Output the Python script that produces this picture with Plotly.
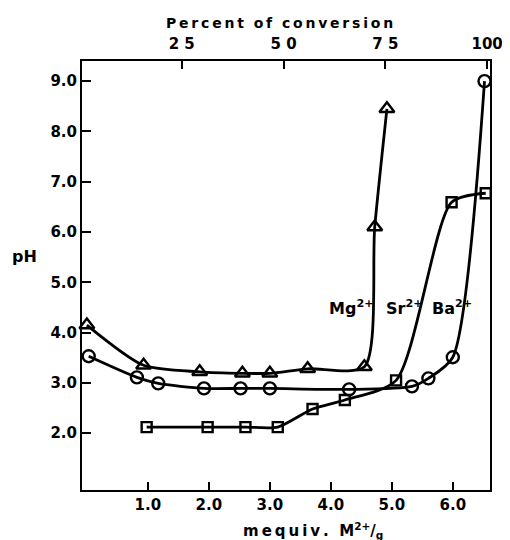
import plotly.graph_objects as go

# Mg2+ (triangles)
mg_x = [0.0, 0.93, 1.85, 2.55, 3.0, 3.62, 4.55, 4.72, 4.92]
mg_ph = [4.15, 3.35, 3.22, 3.19, 3.19, 3.28, 3.32, 6.1, 8.45]
# Sr2+ (squares)
sr_x = [0.98, 1.98, 2.6, 3.13, 3.7, 4.23, 5.07, 5.98, 6.54]
sr_ph = [2.12, 2.12, 2.12, 2.12, 2.48, 2.66, 3.05, 6.59, 6.77]
# Ba2+ (circles)
ba_x = [0.03, 0.82, 1.17, 1.92, 2.52, 3.0, 4.3, 5.33, 5.6, 6.0, 6.52]
ba_ph = [3.53, 3.11, 2.99, 2.89, 2.89, 2.89, 2.87, 2.93, 3.09, 3.51, 9.0]

x_ticks = [1, 2, 3, 4, 5, 6]
x_tick_labels = ["1.0", "2.0", "3.0", "4.0", "5.0", "6.0"]
y_ticks = [2, 3, 4, 5, 6, 7, 8, 9]
y_tick_labels = ["2.0", "3.0", "4.0", "5.0", "6.0", "7.0", "8.0", "9.0"]
pct_ticks = [25, 50, 75, 100]
pct_tick_labels = ["2 5", "5 0", "7 5", "100"]

labels = ["Mg<sup>2+</sup>", "Sr<sup>2+</sup>", "Ba<sup>2+</sup>"]
label_x = [4.34, 5.21, 5.98]
label_y = [4.5, 4.5, 4.5]

FONT = "DejaVu Sans"
TS = "\u2009"  # thin space for letter spacing


def spaced(s):
    return TS.join(s).replace(TS + " " + TS, "  ")


fig = go.Figure()
for xs, ys, sym, sz in [(mg_x, mg_ph, "triangle-up-open", 13),
                        (sr_x, sr_ph, "square-open", 10),
                        (ba_x, ba_ph, "circle-open", 12)]:
    fig.add_trace(go.Scatter(
        x=xs, y=ys, mode="lines+markers",
        line=dict(color="black", width=2.8, shape="spline", smoothing=0.7),
        marker=dict(symbol=sym, size=sz, color="black", line=dict(width=2.4, color="black")),
        showlegend=False, hoverinfo="skip", cliponaxis=False))

# invisible trace to register the top (percent) axis
fig.add_trace(go.Scatter(x=pct_ticks, y=[None] * len(pct_ticks), xaxis="x2",
                         mode="markers", showlegend=False, hoverinfo="skip"))

for t, xv, yv in zip(labels, label_x, label_y):
    fig.add_annotation(x=xv, y=yv, text=t, showarrow=False,
                       font=dict(family=FONT, size=16, color="black", weight="bold"))

bold = dict(family=FONT, color="black", weight="bold")
fig.add_annotation(xref="paper", yref="paper", x=-0.14, y=0.545, text="pH",
                   xanchor="center", yanchor="middle",
                   showarrow=False, font=dict(size=16, **bold))
fig.add_annotation(xref="paper", yref="paper", x=0.485, y=1.0, yshift=38,
                   xanchor="center", yanchor="middle",
                   text=spaced("Percent of conversion"),
                   showarrow=False, font=dict(size=14, **bold))
fig.add_annotation(xref="paper", yref="paper", x=0.566, y=0, yshift=-40,
                   xanchor="center", yanchor="middle",
                   text=spaced("mequiv.") + "  M<sup>2+</sup>/<sub>g</sub>",
                   showarrow=False, font=dict(size=15, **bold))

tickfont = dict(size=15, **bold)

# page body has an 8px default margin, so margins are offset to place the frame
fig.update_layout(
    width=510, height=540,
    margin=dict(l=74, r=28, t=53, b=58),
    plot_bgcolor="white", paper_bgcolor="white",
    xaxis=dict(range=[-0.08, 6.61], tickvals=x_ticks, ticktext=x_tick_labels,
               ticks="inside", ticklen=8, tickwidth=2, tickcolor="black",
               showline=True, linecolor="black", linewidth=2, mirror=False,
               showgrid=False, zeroline=False, tickfont=tickfont, automargin=False),
    xaxis2=dict(overlaying="x", side="top", anchor="y",
                range=[0.5, 100.7], tickvals=pct_ticks, ticktext=pct_tick_labels,
                ticks="inside", ticklen=8, tickwidth=2, tickcolor="black",
                showline=True, linecolor="black", linewidth=2, ticklabelstandoff=4,
                showgrid=False, zeroline=False, tickfont=tickfont, automargin=False),
    yaxis=dict(range=[0.87, 9.4], tickvals=y_ticks, ticktext=y_tick_labels,
               ticks="inside", ticklen=9, tickwidth=2, tickcolor="black",
               showline=True, linecolor="black", linewidth=2, mirror=True,
               showgrid=False, zeroline=False, tickfont=tickfont, automargin=False),
)

fig.write_html("out.html")
